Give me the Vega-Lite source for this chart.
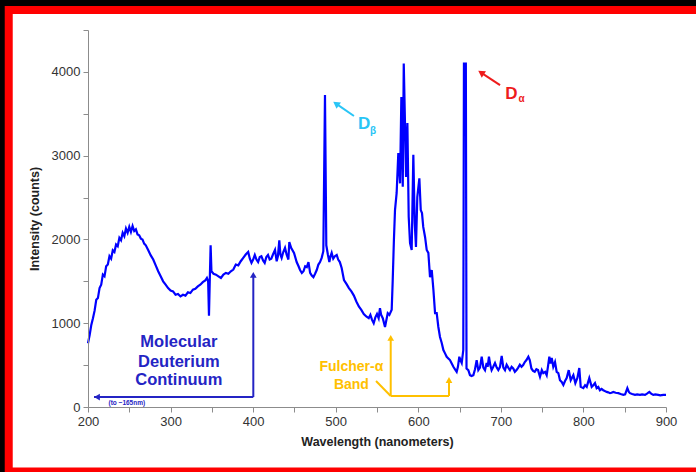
{
  "$schema": "https://vega.github.io/schema/vega-lite/v6.json",
  "width": 578,
  "height": 377,
  "autosize": {"type": "none"},
  "padding": {"left": 88, "top": 30, "right": 30, "bottom": 65},
  "background": "#000000",
  "config": {"view": {"stroke": null}, "font": "Liberation Sans"},
  "datasets": {
    "spectrum": [
      {"nm": 200, "counts": 760}, {"nm": 202, "counts": 860}, {"nm": 204, "counts": 980}, {"nm": 206, "counts": 1060},
      {"nm": 208, "counts": 1150}, {"nm": 210, "counts": 1280}, {"nm": 212, "counts": 1300}, {"nm": 214, "counts": 1420},
      {"nm": 216, "counts": 1460}, {"nm": 218, "counts": 1580}, {"nm": 220, "counts": 1560}, {"nm": 222, "counts": 1680},
      {"nm": 224, "counts": 1700}, {"nm": 226, "counts": 1800}, {"nm": 228, "counts": 1770}, {"nm": 230, "counts": 1870},
      {"nm": 232, "counts": 1850}, {"nm": 234, "counts": 1940}, {"nm": 236, "counts": 1920}, {"nm": 238, "counts": 2020},
      {"nm": 240, "counts": 1990}, {"nm": 242, "counts": 2080}, {"nm": 244, "counts": 2040}, {"nm": 246, "counts": 2130},
      {"nm": 248, "counts": 2080}, {"nm": 250, "counts": 2150}, {"nm": 252, "counts": 2090}, {"nm": 254, "counts": 2160},
      {"nm": 256, "counts": 2100}, {"nm": 258, "counts": 2120}, {"nm": 260, "counts": 2060}, {"nm": 262, "counts": 2050},
      {"nm": 264, "counts": 2010}, {"nm": 266, "counts": 2000}, {"nm": 268, "counts": 1950}, {"nm": 270, "counts": 1930},
      {"nm": 273, "counts": 1870}, {"nm": 276, "counts": 1810}, {"nm": 279, "counts": 1760}, {"nm": 282, "counts": 1690},
      {"nm": 285, "counts": 1620}, {"nm": 288, "counts": 1560}, {"nm": 291, "counts": 1500}, {"nm": 294, "counts": 1460},
      {"nm": 297, "counts": 1420}, {"nm": 300, "counts": 1390}, {"nm": 303, "counts": 1380}, {"nm": 306, "counts": 1340},
      {"nm": 309, "counts": 1350}, {"nm": 312, "counts": 1320}, {"nm": 315, "counts": 1340}, {"nm": 318, "counts": 1330},
      {"nm": 321, "counts": 1370}, {"nm": 324, "counts": 1360}, {"nm": 327, "counts": 1400}, {"nm": 330, "counts": 1410},
      {"nm": 333, "counts": 1440}, {"nm": 336, "counts": 1460}, {"nm": 339, "counts": 1490}, {"nm": 342, "counts": 1510},
      {"nm": 344, "counts": 1540}, {"nm": 345.5, "counts": 1500}, {"nm": 346.5, "counts": 1090}, {"nm": 347.5, "counts": 1520},
      {"nm": 348.5, "counts": 1930}, {"nm": 349.5, "counts": 1620}, {"nm": 352, "counts": 1590}, {"nm": 355, "counts": 1580},
      {"nm": 358, "counts": 1560}, {"nm": 361, "counts": 1540}, {"nm": 364, "counts": 1580}, {"nm": 367, "counts": 1600},
      {"nm": 370, "counts": 1590}, {"nm": 373, "counts": 1620}, {"nm": 376, "counts": 1640}, {"nm": 379, "counts": 1700},
      {"nm": 382, "counts": 1690}, {"nm": 385, "counts": 1740}, {"nm": 388, "counts": 1780}, {"nm": 391, "counts": 1820},
      {"nm": 394, "counts": 1850}, {"nm": 396, "counts": 1770}, {"nm": 398, "counts": 1720}, {"nm": 400, "counts": 1760},
      {"nm": 402, "counts": 1815}, {"nm": 404, "counts": 1760}, {"nm": 406, "counts": 1730}, {"nm": 408, "counts": 1790},
      {"nm": 410, "counts": 1800}, {"nm": 412, "counts": 1750}, {"nm": 414, "counts": 1720}, {"nm": 416, "counts": 1790},
      {"nm": 418, "counts": 1815}, {"nm": 420, "counts": 1760}, {"nm": 422, "counts": 1770}, {"nm": 424, "counts": 1820},
      {"nm": 426.5, "counts": 1875}, {"nm": 428.5, "counts": 1740}, {"nm": 430, "counts": 1800}, {"nm": 431.7, "counts": 1990},
      {"nm": 433, "counts": 1820}, {"nm": 434.5, "counts": 1780}, {"nm": 436.5, "counts": 1850}, {"nm": 438.6, "counts": 1900},
      {"nm": 440.5, "counts": 1820}, {"nm": 442.7, "counts": 1760}, {"nm": 443.8, "counts": 1970}, {"nm": 446, "counts": 1900},
      {"nm": 449.5, "counts": 1840}, {"nm": 452.7, "counts": 1730}, {"nm": 455, "counts": 1680}, {"nm": 456.8, "counts": 1635},
      {"nm": 459, "counts": 1600}, {"nm": 461, "counts": 1620}, {"nm": 463, "counts": 1680}, {"nm": 465, "counts": 1670},
      {"nm": 467, "counts": 1730}, {"nm": 469, "counts": 1600}, {"nm": 471, "counts": 1570}, {"nm": 473, "counts": 1550},
      {"nm": 475, "counts": 1590}, {"nm": 477, "counts": 1635}, {"nm": 479, "counts": 1700}, {"nm": 481, "counts": 1730},
      {"nm": 483, "counts": 1780}, {"nm": 485, "counts": 1860}, {"nm": 487, "counts": 3725}, {"nm": 488.6, "counts": 1930},
      {"nm": 490.5, "counts": 1820}, {"nm": 492.3, "counts": 1730}, {"nm": 493.7, "counts": 1800}, {"nm": 495.1, "counts": 1840},
      {"nm": 497, "counts": 1770}, {"nm": 499, "counts": 1800}, {"nm": 501.2, "counts": 1815}, {"nm": 503, "counts": 1760},
      {"nm": 505, "counts": 1730}, {"nm": 507.2, "counts": 1660}, {"nm": 510, "counts": 1515}, {"nm": 513, "counts": 1470},
      {"nm": 516, "counts": 1420}, {"nm": 519, "counts": 1380}, {"nm": 522, "counts": 1330}, {"nm": 525, "counts": 1260},
      {"nm": 528, "counts": 1200}, {"nm": 531, "counts": 1160}, {"nm": 534, "counts": 1110}, {"nm": 537, "counts": 1080},
      {"nm": 540, "counts": 1060}, {"nm": 542, "counts": 1100}, {"nm": 544, "counts": 1040}, {"nm": 546, "counts": 1000},
      {"nm": 548, "counts": 1070}, {"nm": 550, "counts": 1110}, {"nm": 552, "counts": 1060}, {"nm": 553.6, "counts": 1180},
      {"nm": 555, "counts": 1100}, {"nm": 557, "counts": 1060}, {"nm": 559.7, "counts": 955}, {"nm": 561, "counts": 1020},
      {"nm": 563, "counts": 1120}, {"nm": 565, "counts": 1100}, {"nm": 567.8, "counts": 1160}, {"nm": 569, "counts": 1500},
      {"nm": 570.5, "counts": 2000}, {"nm": 571.8, "counts": 2350}, {"nm": 573.8, "counts": 2555}, {"nm": 575.8, "counts": 3030},
      {"nm": 577.9, "counts": 2670}, {"nm": 579.5, "counts": 3700}, {"nm": 581.2, "counts": 2630}, {"nm": 582.4, "counts": 4100},
      {"nm": 584, "counts": 3340}, {"nm": 585.2, "counts": 2745}, {"nm": 586.8, "counts": 3390}, {"nm": 588.4, "counts": 2270},
      {"nm": 590, "counts": 1955}, {"nm": 592, "counts": 1875}, {"nm": 594, "counts": 3010}, {"nm": 595.7, "counts": 2195},
      {"nm": 597.2, "counts": 1910}, {"nm": 598.8, "counts": 2505}, {"nm": 601.3, "counts": 2730}, {"nm": 603, "counts": 2350},
      {"nm": 604.5, "counts": 2315}, {"nm": 606, "counts": 2150}, {"nm": 608.2, "counts": 2030}, {"nm": 610.2, "counts": 1875},
      {"nm": 612.2, "counts": 1840}, {"nm": 614.2, "counts": 1550}, {"nm": 616.3, "counts": 1635}, {"nm": 618.3, "counts": 1400},
      {"nm": 620.3, "counts": 1120}, {"nm": 622.3, "counts": 1120}, {"nm": 624.3, "counts": 955}, {"nm": 626.3, "counts": 835},
      {"nm": 628.4, "counts": 765}, {"nm": 630.4, "counts": 680}, {"nm": 632.4, "counts": 640}, {"nm": 634.4, "counts": 600},
      {"nm": 636.4, "counts": 580}, {"nm": 638.4, "counts": 560}, {"nm": 640.5, "counts": 520}, {"nm": 642.5, "counts": 480},
      {"nm": 644.5, "counts": 450}, {"nm": 646.5, "counts": 420}, {"nm": 648, "counts": 480}, {"nm": 649.7, "counts": 600},
      {"nm": 651, "counts": 560}, {"nm": 652.6, "counts": 525}, {"nm": 654.5, "counts": 680}, {"nm": 655.3, "counts": 4100},
      {"nm": 657.6, "counts": 4100}, {"nm": 658.4, "counts": 460}, {"nm": 660.6, "counts": 440}, {"nm": 662.6, "counts": 380},
      {"nm": 664.5, "counts": 370}, {"nm": 666.7, "counts": 380}, {"nm": 668.7, "counts": 450}, {"nm": 670.7, "counts": 560},
      {"nm": 672.7, "counts": 440}, {"nm": 674.7, "counts": 470}, {"nm": 676.8, "counts": 600}, {"nm": 678.8, "counts": 470},
      {"nm": 680.8, "counts": 440}, {"nm": 682.8, "counts": 525}, {"nm": 684, "counts": 480}, {"nm": 685.6, "counts": 600},
      {"nm": 687.2, "counts": 500}, {"nm": 688.8, "counts": 440}, {"nm": 690.8, "counts": 480}, {"nm": 692.9, "counts": 525},
      {"nm": 695, "counts": 470}, {"nm": 696.9, "counts": 440}, {"nm": 699, "counts": 480}, {"nm": 701, "counts": 610},
      {"nm": 703, "counts": 470}, {"nm": 705, "counts": 440}, {"nm": 707, "counts": 505}, {"nm": 709, "counts": 470},
      {"nm": 711, "counts": 440}, {"nm": 713, "counts": 480}, {"nm": 715, "counts": 460}, {"nm": 717, "counts": 420},
      {"nm": 719, "counts": 440}, {"nm": 721, "counts": 470}, {"nm": 723, "counts": 505}, {"nm": 725, "counts": 480},
      {"nm": 727, "counts": 500}, {"nm": 729, "counts": 537}, {"nm": 731, "counts": 560}, {"nm": 733.3, "counts": 600},
      {"nm": 735, "counts": 560}, {"nm": 737, "counts": 460}, {"nm": 739, "counts": 430}, {"nm": 741, "counts": 420},
      {"nm": 743, "counts": 450}, {"nm": 745, "counts": 440}, {"nm": 747.4, "counts": 360}, {"nm": 749.6, "counts": 440},
      {"nm": 751.4, "counts": 405}, {"nm": 753.6, "counts": 420}, {"nm": 755.5, "counts": 380}, {"nm": 757, "counts": 480},
      {"nm": 758.7, "counts": 600}, {"nm": 760, "counts": 520}, {"nm": 761.6, "counts": 585}, {"nm": 763.5, "counts": 480},
      {"nm": 765.6, "counts": 537}, {"nm": 767.6, "counts": 420}, {"nm": 769.6, "counts": 405}, {"nm": 771.6, "counts": 320},
      {"nm": 773.7, "counts": 300}, {"nm": 775.7, "counts": 263}, {"nm": 777.7, "counts": 310}, {"nm": 779.7, "counts": 345},
      {"nm": 782.2, "counts": 440}, {"nm": 784.6, "counts": 320}, {"nm": 787.8, "counts": 380}, {"nm": 790.2, "counts": 285},
      {"nm": 792.6, "counts": 345}, {"nm": 795, "counts": 465}, {"nm": 796.7, "counts": 240}, {"nm": 799.9, "counts": 225},
      {"nm": 802, "counts": 260}, {"nm": 804, "counts": 240}, {"nm": 807.1, "counts": 345}, {"nm": 810, "counts": 240},
      {"nm": 812, "counts": 260}, {"nm": 814, "counts": 285}, {"nm": 816, "counts": 225}, {"nm": 818, "counts": 240},
      {"nm": 820, "counts": 200}, {"nm": 822, "counts": 215}, {"nm": 824, "counts": 200}, {"nm": 826, "counts": 190},
      {"nm": 828.2, "counts": 180}, {"nm": 830, "counts": 175}, {"nm": 832.2, "counts": 165}, {"nm": 834, "counts": 170},
      {"nm": 836.2, "counts": 180}, {"nm": 839, "counts": 170}, {"nm": 842.3, "counts": 165}, {"nm": 845, "counts": 155},
      {"nm": 848.4, "counts": 145}, {"nm": 850.5, "counts": 150}, {"nm": 853.2, "counts": 225}, {"nm": 855, "counts": 180},
      {"nm": 856.4, "counts": 165}, {"nm": 859, "counts": 155}, {"nm": 862.5, "counts": 145}, {"nm": 865, "counts": 150},
      {"nm": 868.5, "counts": 145}, {"nm": 871, "counts": 150}, {"nm": 874.6, "counts": 145}, {"nm": 877, "counts": 160},
      {"nm": 879.8, "counts": 180}, {"nm": 882, "counts": 160}, {"nm": 884.6, "counts": 145}, {"nm": 887, "counts": 150},
      {"nm": 890.6, "counts": 145}, {"nm": 893, "counts": 140}, {"nm": 896.7, "counts": 145}, {"nm": 900, "counts": 145}
    ],
    "segments": [
      {"group": "continuum", "nm": 207.3, "counts": 119, "nm2": 400.2, "counts2": 119},
      {"group": "continuum", "nm": 400.2, "counts": 119, "nm2": 400.2, "counts2": 1576},
      {"group": "fulcher", "nm": 548.8, "counts": 310, "nm2": 566.6, "counts2": 131},
      {"group": "fulcher", "nm": 566.6, "counts": 131, "nm2": 637.2, "counts2": 131},
      {"group": "fulcher", "nm": 637.2, "counts": 131, "nm2": 637.2, "counts2": 322},
      {"group": "fulcher", "nm": 566.6, "counts": 131, "nm2": 566.6, "counts2": 824},
      {"group": "dbeta", "nm": 522.1, "counts": 3473, "nm2": 500.35, "counts2": 3621},
      {"group": "dalpha", "nm": 699, "counts": 3843, "nm2": 676, "counts2": 3991}
    ],
    "arrowsUp": [
      {"group": "continuum", "nm": 400.2, "counts": 1576},
      {"group": "fulcher", "nm": 566.6, "counts": 824},
      {"group": "fulcher", "nm": 637.2, "counts": 322}
    ],
    "arrowsLeft": [
      {"group": "continuum", "nm": 210.9, "counts": 119}
    ],
    "arrowBeta": [
      {"group": "dbeta", "nm": 500.35, "counts": 3621}
    ],
    "arrowAlpha": [
      {"group": "dalpha", "nm": 676, "counts": 3991}
    ],
    "continuumText": [
      {"group": "continuum", "nm": 310, "counts": 780, "label": "Molecular"},
      {"group": "continuum", "nm": 310, "counts": 540, "label": "Deuterium"},
      {"group": "continuum", "nm": 310, "counts": 322, "label": "Continuum"}
    ],
    "smallText": [
      {"group": "continuum", "nm": 247, "counts": 48, "label": "(to ~165nm)"}
    ],
    "fulcherText": [
      {"group": "fulcher", "nm": 519, "counts": 477, "label": "Fulcher-α"},
      {"group": "fulcher", "nm": 519, "counts": 263, "label": "Band"}
    ],
    "lineLetters": [
      {"group": "dbeta", "nm": 534.3, "counts": 3378, "label": "D"},
      {"group": "dalpha", "nm": 712.7, "counts": 3740, "label": "D"}
    ],
    "lineSubs": [
      {"group": "dbeta", "nm": 545.2, "counts": 3294, "label": "β"},
      {"group": "dalpha", "nm": 725.1, "counts": 3682, "label": "α"}
    ]
  },
  "layer": [
    {
      "data": {"values": [{}]},
      "mark": {"type": "rect", "fill": "#ffffff", "stroke": "#ff0000", "strokeWidth": 8},
      "encoding": {
        "x": {
          "datum": 104, "type": "quantitative",
          "scale": {"domain": [200, 900], "nice": false, "zero": false},
          "axis": {
            "title": "Wavelength (nanometers)",
            "values": [200, 250, 300, 350, 400, 450, 500, 550, 600, 650, 700, 750, 800, 850, 900],
            "labelExpr": "datum.value % 100 === 0 ? datum.label : ''",
            "format": "d", "grid": false, "zindex": 1,
            "domainColor": "#8c8c8c", "tickColor": "#8c8c8c", "tickSize": 5,
            "labelFontSize": 13, "labelColor": "#333333", "labelPadding": 3,
            "labelFlush": false, "labelOverlap": false,
            "titleFontSize": 12.5, "titleFontWeight": "bold", "titleColor": "#222222", "titlePadding": 7
          }
        },
        "x2": {"datum": 950},
        "y": {
          "datum": 4739, "type": "quantitative",
          "scale": {"domain": [0, 4500], "nice": false, "zero": false},
          "axis": {
            "title": "Intensity (counts)",
            "values": [0, 500, 1000, 1500, 2000, 2500, 3000, 3500, 4000, 4500],
            "labelExpr": "datum.value % 1000 === 0 ? datum.label : ''",
            "format": "d", "grid": false, "zindex": 1,
            "domainColor": "#8c8c8c", "tickColor": "#8c8c8c", "tickSize": 5,
            "labelFontSize": 13, "labelColor": "#333333", "labelPadding": 3,
            "labelFlush": false, "labelOverlap": false,
            "titleFontSize": 12.5, "titleFontWeight": "bold", "titleColor": "#222222", "titlePadding": 10
          }
        },
        "y2": {"datum": -770}
      }
    },
    {
      "encoding": {
        "x": {
          "field": "nm", "type": "quantitative",
          "scale": {"domain": [200, 900], "nice": false, "zero": false},
          "axis": {
            "title": "Wavelength (nanometers)",
            "values": [200, 250, 300, 350, 400, 450, 500, 550, 600, 650, 700, 750, 800, 850, 900],
            "labelExpr": "datum.value % 100 === 0 ? datum.label : ''",
            "format": "d", "grid": false, "zindex": 1,
            "domainColor": "#8c8c8c", "tickColor": "#8c8c8c", "tickSize": 5,
            "labelFontSize": 13, "labelColor": "#333333", "labelPadding": 3,
            "labelFlush": false, "labelOverlap": false,
            "titleFontSize": 12.5, "titleFontWeight": "bold", "titleColor": "#222222", "titlePadding": 7
          }
        },
        "y": {
          "field": "counts", "type": "quantitative",
          "scale": {"domain": [0, 4500], "nice": false, "zero": false},
          "axis": {
            "title": "Intensity (counts)",
            "values": [0, 500, 1000, 1500, 2000, 2500, 3000, 3500, 4000, 4500],
            "labelExpr": "datum.value % 1000 === 0 ? datum.label : ''",
            "format": "d", "grid": false, "zindex": 1,
            "domainColor": "#8c8c8c", "tickColor": "#8c8c8c", "tickSize": 5,
            "labelFontSize": 13, "labelColor": "#333333", "labelPadding": 3,
            "labelFlush": false, "labelOverlap": false,
            "titleFontSize": 12.5, "titleFontWeight": "bold", "titleColor": "#222222", "titlePadding": 10
          }
        },
        "color": {
          "field": "group", "type": "nominal",
          "scale": {"domain": ["continuum", "fulcher", "dbeta", "dalpha"], "range": ["#2424c4", "#ffc000", "#29c5f6", "#ee1c1c"]},
          "legend": null
        }
      },
      "layer": [
        {
          "data": {"name": "spectrum"},
          "mark": {"type": "line", "stroke": "#0000ff", "strokeWidth": 2.2},
          "encoding": {"color": {"value": "#0000ff"}}
        },
        {
          "data": {"name": "segments"},
          "mark": {"type": "rule", "strokeWidth": 2},
          "encoding": {"x2": {"field": "nm2"}, "y2": {"field": "counts2"}}
        },
        {
          "data": {"name": "arrowsUp"},
          "mark": {"type": "point", "shape": "triangle-up", "filled": true, "size": 45, "opacity": 1}
        },
        {
          "data": {"name": "arrowsLeft"},
          "mark": {"type": "point", "shape": "triangle-left", "filled": true, "size": 45, "opacity": 1}
        },
        {
          "data": {"name": "arrowBeta"},
          "mark": {"type": "point", "shape": "triangle-up", "angle": 305, "filled": true, "size": 60, "opacity": 1}
        },
        {
          "data": {"name": "arrowAlpha"},
          "mark": {"type": "point", "shape": "triangle-up", "angle": 303, "filled": true, "size": 60, "opacity": 1}
        },
        {
          "data": {"name": "continuumText"},
          "mark": {"type": "text", "fontSize": 16.5, "fontWeight": "bold", "align": "center", "baseline": "middle"},
          "encoding": {"text": {"field": "label"}}
        },
        {
          "data": {"name": "smallText"},
          "mark": {"type": "text", "fontSize": 6.5, "fontWeight": "bold", "align": "center", "baseline": "middle"},
          "encoding": {"text": {"field": "label"}}
        },
        {
          "data": {"name": "fulcherText"},
          "mark": {"type": "text", "fontSize": 14, "fontWeight": "bold", "align": "center", "baseline": "middle"},
          "encoding": {"text": {"field": "label"}}
        },
        {
          "data": {"name": "lineLetters"},
          "mark": {"type": "text", "fontSize": 17, "fontWeight": "bold", "align": "center", "baseline": "middle"},
          "encoding": {"text": {"field": "label"}}
        },
        {
          "data": {"name": "lineSubs"},
          "mark": {"type": "text", "fontSize": 10, "fontWeight": "bold", "align": "center", "baseline": "middle"},
          "encoding": {"text": {"field": "label"}}
        }
      ]
    }
  ]
}
